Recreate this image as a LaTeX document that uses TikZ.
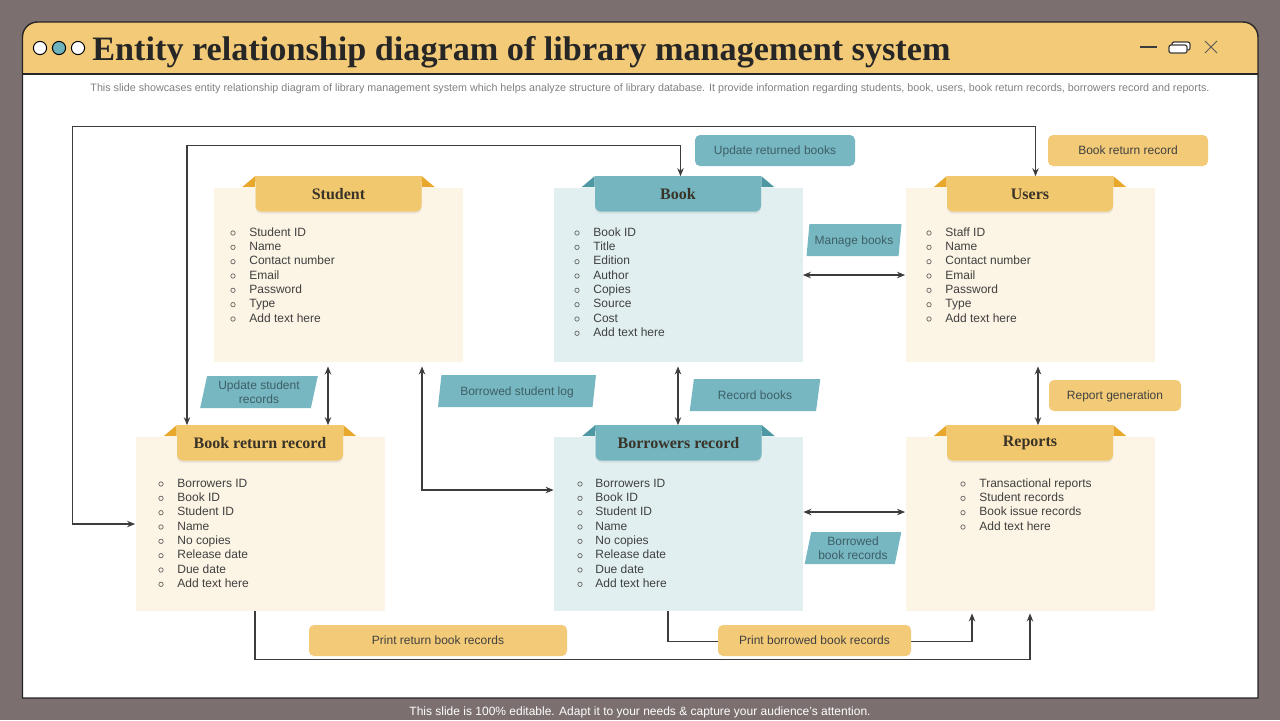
\documentclass[tikz,border=0pt]{standalone}
\usepackage{fontspec}
\setmainfont{Liberation Sans}
\newfontfamily\hdfont{Liberation Serif}
\usetikzlibrary{arrows.meta,positioning,shapes.geometric,shadows}
\definecolor{bgc}{HTML}{7B6F6F}
\definecolor{headc}{HTML}{F3CB78}
\definecolor{creamc}{HTML}{FCF4E4}
\definecolor{aquac}{HTML}{E1EFF1}
\definecolor{tabyc}{HTML}{F2C86E}
\definecolor{ribyc}{HTML}{E8A82C}
\definecolor{tabtc}{HTML}{74B5BF}
\definecolor{ribtc}{HTML}{4E98A3}
\definecolor{lbltc}{HTML}{77B7C1}
\definecolor{textc}{HTML}{404040}
\definecolor{tealtext}{HTML}{3E5F66}
\definecolor{hdtext}{HTML}{3A3328}
\definecolor{linec}{HTML}{3C3C3C}
\definecolor{dotc}{HTML}{6FB3BD}
\tikzset{
    entity/.style={
           rectangle,
           minimum width=124.5pt,
           minimum height=87pt,
           inner sep=0pt,
           },
    tab/.style={
           rectangle,
           rounded corners=3pt,
           minimum width=83pt,
           minimum height=17.5pt,
           inner sep=0pt,
           font=\hdfont\bfseries\fontsize{8}{9}\selectfont,
           text=hdtext,
           drop shadow={shadow xshift=0pt,shadow yshift=-1pt,opacity=0.15},
           },
    item/.style={
           anchor=west,
           inner sep=0pt,
           text height=4.3pt,
           text depth=0pt,
           font=\fontsize{6}{7}\selectfont,
           text=textc,
           },
}

\begin{document}
\begin{tikzpicture}[
  x=0.5pt,y=-0.5pt,
  >={Stealth[length=4pt,width=3.2pt]},
  conn/.style={draw=linec,line width=0.6pt},
  dot/.style={draw=black!60,line width=0.35pt},
  oneline/.style={text height=4.3pt,text depth=0pt},
  ybox/.style={fill=headc,rounded corners=2.5pt,minimum width=80pt,minimum height=15.5pt,
    inner sep=1pt,align=center,oneline,font=\fontsize{6}{7}\selectfont,text=textc},
  tbox/.style={ybox,fill=lbltc,text=tealtext},
  tlbl/.style={trapezium,trapezium left angle=78,trapezium right angle=102,
    trapezium stretches=true,fill=lbltc,minimum height=16pt,inner sep=1pt,
    align=center,font=\fontsize{6}{7}\selectfont,text=tealtext}]
\useasboundingbox (0,0) rectangle (1280,720);
\fill[bgc] (0,0) rectangle (1280,720);

% window
\fill[white] (22.5,74) rectangle (1258,698);
\fill[headc] (22.5,74) -- (22.5,37) arc[start angle=180,end angle=90,radius=7.5pt]
  -- (1243,22) arc[start angle=90,end angle=0,radius=7.5pt] -- (1258,74) -- cycle;
\draw[black!85,line width=0.6pt] (22.5,74) -- (1258,74);
\draw[black!85,line width=0.7pt] (22.5,698) -- (22.5,37) arc[start angle=180,end angle=90,radius=7.5pt]
  -- (1243,22) arc[start angle=90,end angle=0,radius=7.5pt] -- (1258,698) -- cycle;
\foreach \x/\c in {40/white,59/dotc,78/white}
  \draw[fill=\c,line width=0.5pt] (\x,48) circle (3.3pt);
\draw[linec,line width=0.6pt] (1140,47) -- (1157,47);
\draw[linec,line width=0.6pt,fill=white,rounded corners=1pt] (1172,42) rectangle (1190,50);
\draw[linec,line width=0.6pt,fill=white,rounded corners=1pt] (1169,45) rectangle (1187,53);
\draw[black!65,line width=0.5pt] (1205,41) -- (1217,53) (1205,53) -- (1217,41);

\node[anchor=base west,inner sep=0pt,font=\hdfont\bfseries\fontsize{17.1}{19}\selectfont,
  text=black!85] (title) at (92,60) {Entity relationship diagram of library management system};
\node[inner sep=0pt,font=\fontsize{5.37}{6}\selectfont,text=black!50] (subtitle) at (650,88.5)
  {This slide showcases entity relationship diagram of library management  system which helps analyze structure of library database. It provide information regarding students, book, users, book return records, borrowers record and reports.};
\node[inner sep=0pt,font=\fontsize{6}{7}\selectfont,text=white] (footer) at (640,712)
  {This slide is 100\% editable. Adapt it to your needs \& capture your audience's attention.};

% entities
\node[entity,fill=creamc](student) at (338.5,275) {};
\node[entity,fill=aquac](book) at (678,275) {};
\node[entity,fill=creamc](users) at (1030,275) {};
\node[entity,fill=creamc](brr) at (260,524) {};
\node[entity,fill=aquac](borrow) at (678.5,524) {};
\node[entity,fill=creamc](reports) at (1030,524) {};
\node[tab,fill=tabyc](studenthd) at ([yshift=-3.25pt]student.north) {Student};
\node[tab,fill=tabtc](bookhd) at ([yshift=-3.25pt]book.north) {Book};
\node[tab,fill=tabyc](usershd) at ([yshift=-3.25pt]users.north) {Users};
\node[tab,fill=tabyc](brrhd) at ([yshift=-3.25pt]brr.north) {Book return record};
\node[tab,fill=tabtc](borrowhd) at ([yshift=-3.25pt]borrow.north) {Borrowers record};
\node[tab,fill=tabyc](reportshd) at ([yshift=-3.25pt]reports.north) {Reports};
\foreach \n/\c/\r in {studenthd/tabyc/ribyc,bookhd/tabtc/ribtc,usershd/tabyc/ribyc,
    brrhd/tabyc/ribyc,borrowhd/tabtc/ribtc,reportshd/tabyc/ribyc} {
  \fill[\c] (\n.north west) rectangle ([yshift=-3pt]\n.north east);
  \fill[\r] (\n.north west) -- ++(-13,11) -- ++(13,0) -- cycle;
  \fill[\r] (\n.north east) -- ++(13,11) -- ++(-13,0) -- cycle;
}

% attributes
\foreach \t [count=\i] in {Student ID,Name,Contact number,Email,Password,Type,Add text here} {
  \node[item](stu\i) at (249,{232+14.33*(\i-1)}) {\t};
  \draw[dot] ([xshift=-8pt,yshift=-0.5pt]stu\i.west) circle (1.1pt);
}
\foreach \t [count=\i] in {Book ID,Title,Edition,Author,Copies,Source,Cost,Add text here} {
  \node[item](bk\i) at (593,{232+14.33*(\i-1)}) {\t};
  \draw[dot] ([xshift=-8pt,yshift=-0.5pt]bk\i.west) circle (1.1pt);
}
\foreach \t [count=\i] in {Staff ID,Name,Contact number,Email,Password,Type,Add text here} {
  \node[item](usr\i) at (945,{232+14.33*(\i-1)}) {\t};
  \draw[dot] ([xshift=-8pt,yshift=-0.5pt]usr\i.west) circle (1.1pt);
}
\foreach \t [count=\i] in {Borrowers ID,Book ID,Student ID,Name,No copies,Release date,Due date,Add text here} {
  \node[item](ret\i) at (177,{483+14.33*(\i-1)}) {\t};
  \draw[dot] ([xshift=-8pt,yshift=-0.5pt]ret\i.west) circle (1.1pt);
}
\foreach \t [count=\i] in {Borrowers ID,Book ID,Student ID,Name,No copies,Release date,Due date,Add text here} {
  \node[item](bor\i) at (595,{483+14.33*(\i-1)}) {\t};
  \draw[dot] ([xshift=-7.5pt,yshift=-0.5pt]bor\i.west) circle (1.1pt);
}
\foreach \t [count=\i] in {Transactional reports,Student records,Book issue records,Add text here} {
  \node[item](rep\i) at (979,{483+14.33*(\i-1)}) {\t};
  \draw[dot] ([xshift=-8pt,yshift=-0.5pt]rep\i.west) circle (1.1pt);
}

% relations
\path[conn,<->] ([xshift=2.75pt]usershd.north) -- ++(0,-50) -| ([xshift=-31.5pt]brr.west) -- (brr.west);
\path[conn,<->] ([xshift=-36.5pt]brrhd.north) -- ++(0,-280) -| ([xshift=1.25pt]bookhd.north);
\path[conn,<->,shorten <=2pt] ([xshift=-5.25pt]student.south) -- ([xshift=-5.25pt]student.south |- brrhd.north);
\path[conn,<->,shorten <=2pt] ([xshift=41.75pt]student.south) |- ([yshift=17pt]borrow.west);
\path[conn,<->,shorten <=2pt] (book.south) -- (book.south |- borrowhd.north);
\path[conn,<->] (book.east) -- (users.west);
\path[conn,<->,shorten <=2pt] ([xshift=4pt]users.south) -- ([xshift=4pt]users.south |- reportshd.north);
\path[conn,<->] ([yshift=6pt]borrow.east) -- ([yshift=6pt]reports.west);
\path[conn,->,shorten >=1pt] ([xshift=-5.25pt]borrow.south) -- ++(0,30) -| ([xshift=-29pt]reports.south);
\path[conn,->,shorten >=1pt] ([xshift=-2.5pt]brr.south) -- ++(0,48) -| (reports.south);

% labels
\node[tbox](updret) at (775,150.5) {Update returned books};
\node[ybox](bookret) at (1128,150.5) {Book return record};
\node[tlbl,oneline,minimum width=47.5pt](managebk) at (854,240) {Manage books};
\node[tlbl,minimum width=59pt](updstu) at (259,392) {Update student\\records};
\node[tlbl,oneline,minimum width=79.5pt](borrlog) at (517,391) {Borrowed student log};
\node[tlbl,oneline,minimum width=65.5pt](recbk) at (755,395) {Record books};
\node[ybox,minimum width=66pt](repgen) at (1115,395.5) {Report generation};
\node[tlbl,minimum width=48.5pt](borrbk) at (853,548) {Borrowed\\book records};
\node[ybox,minimum width=129pt](printret) at (438,640.5) {Print return book records};
\node[ybox,minimum width=96.5pt](printborr) at (814.5,640.5) {Print borrowed book records};
\end{tikzpicture}
\end{document}
